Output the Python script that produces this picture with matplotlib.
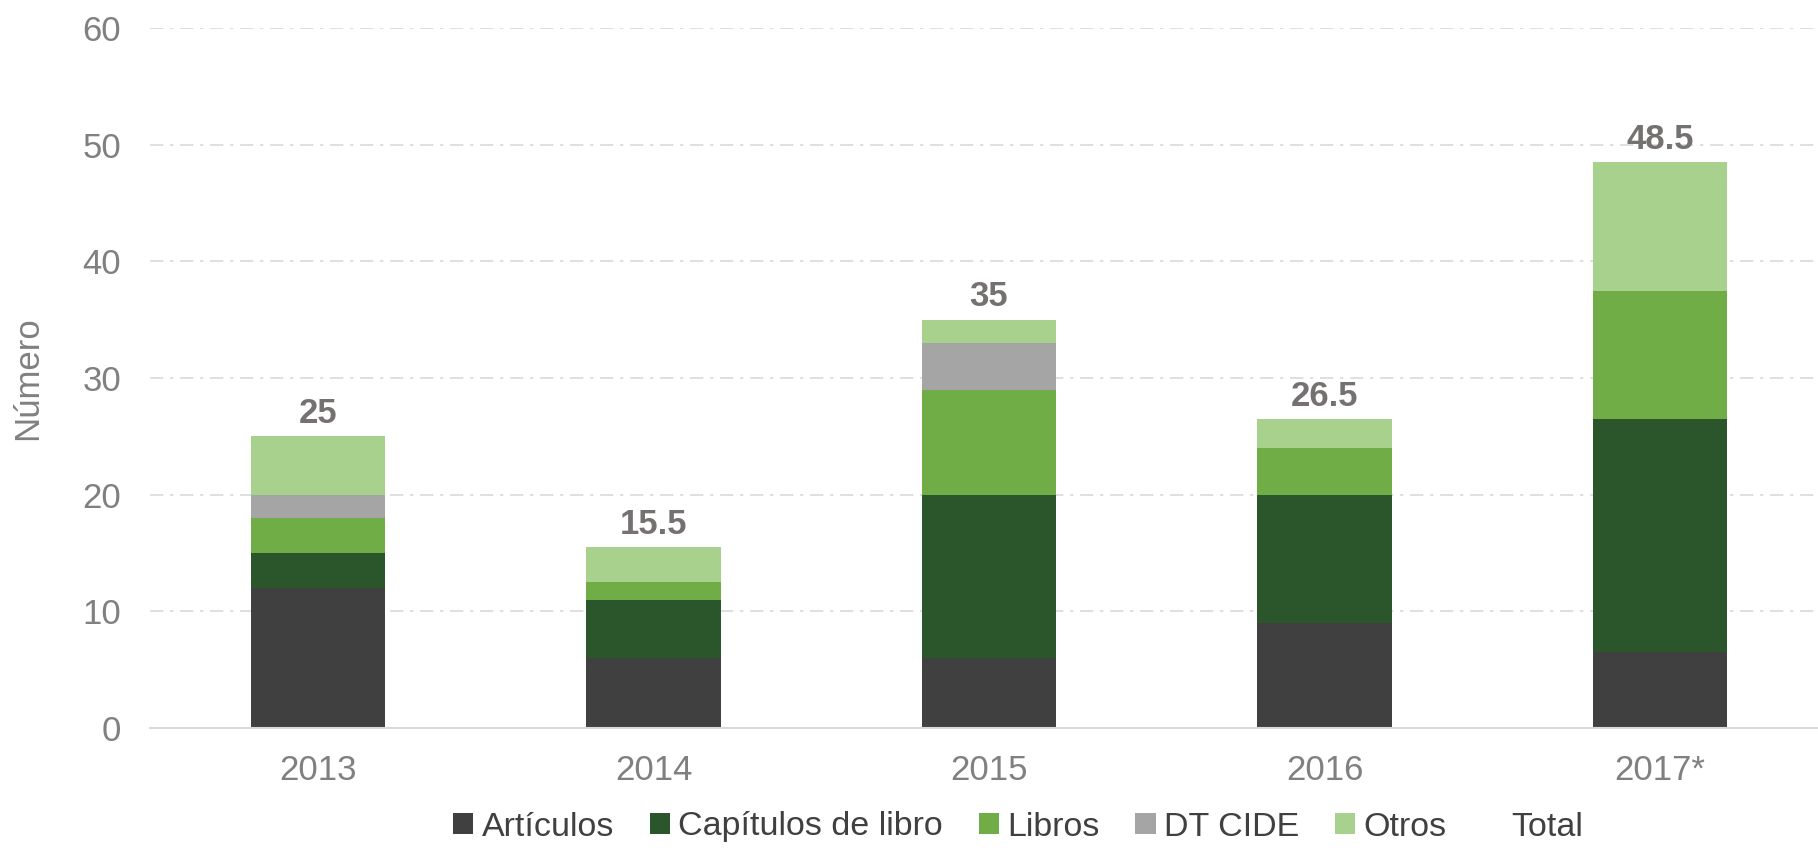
import matplotlib.pyplot as plt
from matplotlib.patches import Patch
import numpy as np

plt.rcParams['font.family'] = ['Liberation Sans', 'DejaVu Sans']

years = ['2013', '2014', '2015', '2016', '2017*']
articulos = [12, 6, 6, 9, 6.5]
capitulos = [3, 5, 14, 11, 20]
libros = [3, 1.5, 9, 4, 11]
dt_cide = [2, 0, 4, 0, 0]
otros = [5, 3, 2, 2.5, 11]

series = [
    ('Artículos', articulos, '#404040'),
    ('Capítulos de libro', capitulos, '#2B562C'),
    ('Libros', libros, '#70AD47'),
    ('DT CIDE', dt_cide, '#A5A5A5'),
    ('Otros', otros, '#A9D18E'),
]

fig = plt.figure(figsize=(18.18, 8.48), dpi=100)
ax = fig.add_axes([150.25 / 1818, 1 - 728 / 848, 1677.5 / 1818, 700 / 848])

x = np.arange(len(years))
bottom = np.zeros(len(years))
handles = []
for name, vals, col in series:
    ax.bar(x, vals, width=0.40, bottom=bottom, color=col, zorder=3)
    bottom += np.array(vals)
    handles.append(Patch(facecolor=col, label=name))
handles.append(Patch(facecolor='none', edgecolor='none', label='Total'))

# totals above bars
for xi, tot in zip(x, bottom):
    label = f'{tot:g}'
    ax.annotate(label, (xi, tot), xytext=(0, 4.5), textcoords='offset points',
                ha='center', va='bottom', fontsize=25, fontweight='bold',
                color='#767171')

ax.set_xlim(-0.5, len(years) - 0.5)
ax.set_ylim(0, 60)
ax.set_yticks(range(0, 61, 10))
ax.set_xticks(x)
ax.set_xticklabels(years)
ax.tick_params(axis='both', length=0, labelsize=25, colors='#808080')
ax.tick_params(axis='y', pad=21)
ax.tick_params(axis='x', pad=19)
ax.set_ylabel('Número', fontsize=25, color='#808080')
ax.yaxis.set_label_coords(-0.063, 0.5)

ax.grid(axis='y', color='#D9D9D9', linewidth=1.2, linestyle=(0, (8, 4, 2, 4)), zorder=0)
for s in ['top', 'right', 'left']:
    ax.spines[s].set_visible(False)
ax.spines['bottom'].set_color('#D9D9D9')
ax.spines['bottom'].set_linewidth(1.5)
ax.spines['bottom'].set_zorder(4)

leg = fig.legend(handles=handles, loc='center', bbox_to_anchor=(1018 / 1818, 1 - 827 / 848),
                 ncol=6, frameon=False, fontsize=24.5, handlelength=0.6, handleheight=0.6,
                 handletextpad=0.24, columnspacing=1.05, borderaxespad=0)
for t in leg.get_texts():
    t.set_color('#404040')

fig.savefig('out.png', dpi=100)
